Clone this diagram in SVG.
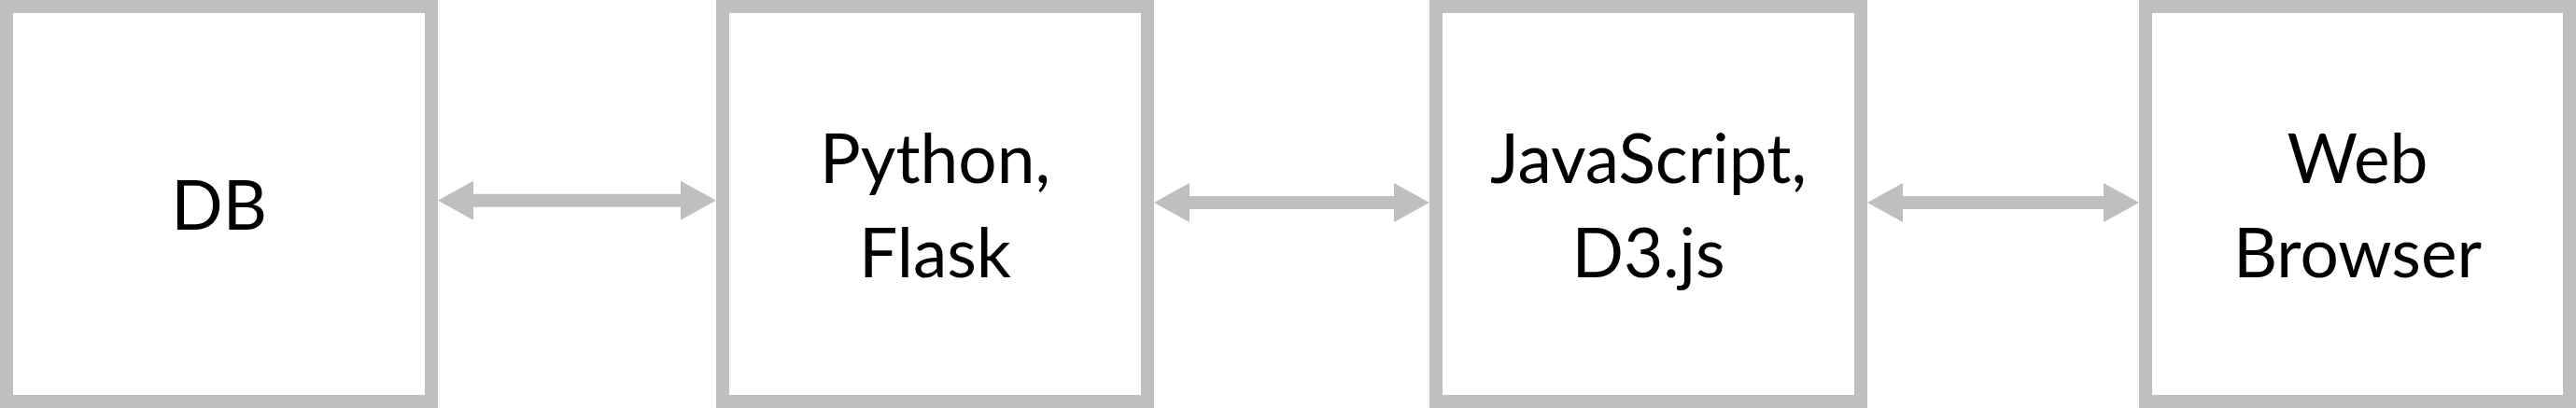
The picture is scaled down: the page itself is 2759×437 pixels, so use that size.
<svg xmlns="http://www.w3.org/2000/svg" width="2759" height="437" viewBox="0 0 2759 437">
<style>
.box{fill:#ffffff;stroke:#bfbfbf;stroke-width:14}
.lbl{font-family:Lato,"Open Sans","Liberation Sans",sans-serif;font-size:73px;fill:#000000;text-anchor:middle}
.conn{stroke:#bfbfbf;stroke-width:14;fill:none;marker-start:url(#ah);marker-end:url(#ah)}
</style>
<defs>
<marker id="ah" markerUnits="userSpaceOnUse" markerWidth="40" markerHeight="44" viewBox="0 -22 40 44" refX="0" refY="0" orient="auto-start-reverse">
<path d="M0,-21 L38,0 L0,21 Z" fill="#bfbfbf"/>
</marker>
</defs>
<rect width="2759" height="437" fill="#ffffff"/>
<g id="node-db">
<rect class="box" x="7" y="7" width="455" height="423"/>
<text class="lbl" x="234.5" y="246">DB</text>
</g>
<g id="node-python">
<rect class="box" x="774" y="7" width="455" height="423"/>
<text class="lbl" x="1001.5" y="196">Python,</text>
<text class="lbl" x="1001.5" y="297">Flask</text>
</g>
<g id="node-js">
<rect class="box" x="1538" y="7" width="455" height="423"/>
<text class="lbl" x="1765.5" y="196">JavaScript,</text>
<text class="lbl" x="1765.5" y="297">D3.js</text>
</g>
<g id="node-browser">
<rect class="box" x="2298" y="7" width="454" height="423"/>
<text class="lbl" x="2525" y="196">Web</text>
<text class="lbl" x="2525" y="297">Browser</text>
</g>
<g id="connectors">
<line class="conn" x1="507" y1="214.7" x2="729" y2="214.7"/>
<line class="conn" x1="1274" y1="217" x2="1493" y2="217"/>
<line class="conn" x1="2038" y1="217" x2="2253" y2="217"/>
</g>
</svg>
